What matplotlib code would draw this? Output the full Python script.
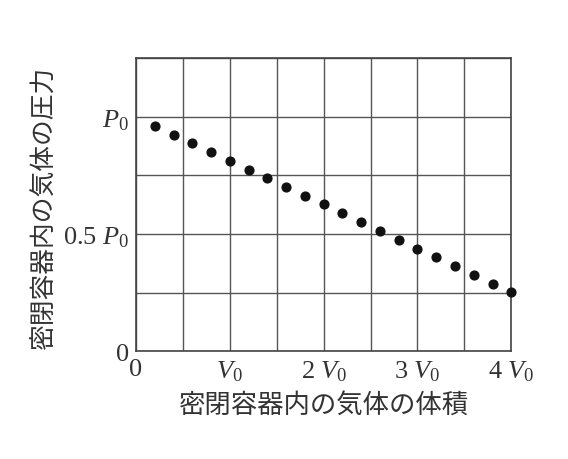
import matplotlib
matplotlib.use("Agg")
import matplotlib.pyplot as plt

# ---- data (volume in V0, pressure in P0) ----
volume = [0.2, 0.4, 0.6, 0.8, 1.0, 1.2, 1.4, 1.6, 1.8, 2.0,
          2.2, 2.4, 2.6, 2.8, 3.0, 3.2, 3.4, 3.6, 3.8, 4.0]
pressure = [0.962, 0.923, 0.887, 0.850, 0.811, 0.774, 0.738, 0.701, 0.664, 0.626,
            0.589, 0.550, 0.513, 0.475, 0.438, 0.400, 0.363, 0.326, 0.288, 0.251]

x_grid = [0, 0.5, 1, 1.5, 2, 2.5, 3, 3.5, 4]
x_labels = ["0", "", r"$V_{0}$", "", r"$2\ V_{0}$", "", r"$3\ V_{0}$", "", r"$4\ V_{0}$"]
y_grid = [0, 0.25, 0.5, 0.75, 1.0, 1.25]
y_labels = ["0", "", r"$0.5\ P_{0}$", "", r"$P_{0}$", ""]

x_title = "密閉容器内の気体の体積"
y_title = "密閉容器内の気体の圧力"

plt.rcParams["mathtext.fontset"] = "custom"
plt.rcParams["mathtext.rm"] = "Liberation Serif"
plt.rcParams["mathtext.it"] = "Liberation Serif:italic"
plt.rcParams["font.family"] = ["Liberation Serif", "Noto Sans CJK JP"]

fig = plt.figure(figsize=(5.68, 4.6), dpi=100)
ax = fig.add_axes([0.2394, 0.234, 0.6608, 0.6377])

ax.scatter(volume, pressure, s=40, color="#111111", zorder=3, clip_on=False)

ax.set_xlim(0, 4)
ax.set_ylim(0, 1.25)
ax.set_xticks(x_grid)
ax.set_xticklabels(x_labels, fontsize=19)
ax.set_yticks(y_grid)
ax.set_yticklabels(y_labels, fontsize=19)
ax.tick_params(length=0, pad=5, colors="#333333")
ax.tick_params(axis="y", pad=5)
ax.grid(True, color="#555555", linewidth=1.0)
for s in ax.spines.values():
    s.set_color("#444444")
    s.set_linewidth(1.2)

ax.set_xlabel(x_title, fontsize=19, family=["Noto Sans CJK JP"], color="#333333")
ax.set_ylabel(y_title, fontsize=18.5, family=["Noto Sans CJK JP"], color="#333333")
ax.xaxis.label.set_va("center")
ax.yaxis.label.set_va("center")
ax.xaxis.set_label_coords(0.5, -0.181)
ax.yaxis.set_label_coords(-0.245, 0.49)

fig.savefig("out.png", dpi=100, facecolor="white")
